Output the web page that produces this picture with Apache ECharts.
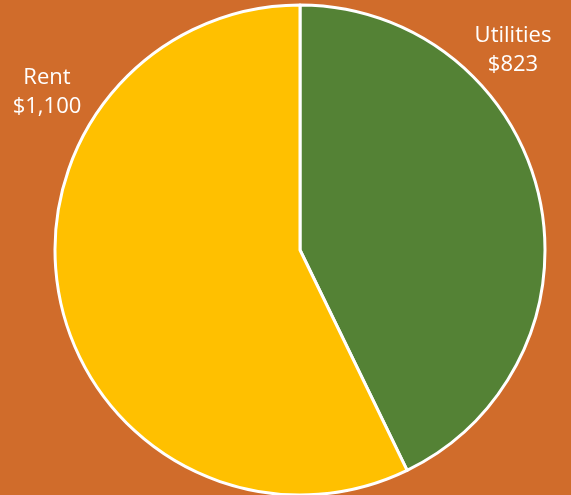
<!DOCTYPE html>
<html>
<head>
<meta charset="utf-8">
<script src="https://cdn.jsdelivr.net/npm/echarts@6/dist/echarts.min.js"></script>
<style>
  html, body { margin: 0; padding: 0; background: #D06C2B; }
  #main { width: 571px; height: 495px; }
</style>
</head>
<body>
<div id="main"></div>
<script>
  // data
  var categories = ['Utilities', 'Rent'];
  var values = [823, 1100];
  var colors = ['#548235', '#FFC000'];

  // where the two labels sit (x, y of label centre)
  var labelSpots = [[513, 50], [47, 92]];

  var chart = echarts.init(document.getElementById('main'));

  chart.setOption({
    backgroundColor: '#D06C2B',
    animation: false,
    series: [
      {
        type: 'pie',
        center: [300, 250],
        radius: 245,
        startAngle: 90,
        clockwise: true,
        avoidLabelOverlap: false,
        data: categories.map(function (c, i) {
          return { name: c, value: values[i], itemStyle: { color: colors[i] } };
        }),
        itemStyle: {
          borderColor: '#ffffff',
          borderWidth: 3
        },
        label: {
          show: true,
          position: 'inside',
          color: '#ffffff',
          fontFamily: 'Open Sans',
          fontSize: 22,
          lineHeight: 29,
          align: 'center',
          formatter: function (p) {
            return p.name + '\n$' + p.value.toLocaleString('en-US');
          }
        },
        labelLine: { show: false },
        labelLayout: function (params) {
          var s = labelSpots[params.dataIndex];
          return { x: s[0], y: s[1], align: 'center', verticalAlign: 'middle' };
        }
      }
    ]
  });
</script>
</body>
</html>
